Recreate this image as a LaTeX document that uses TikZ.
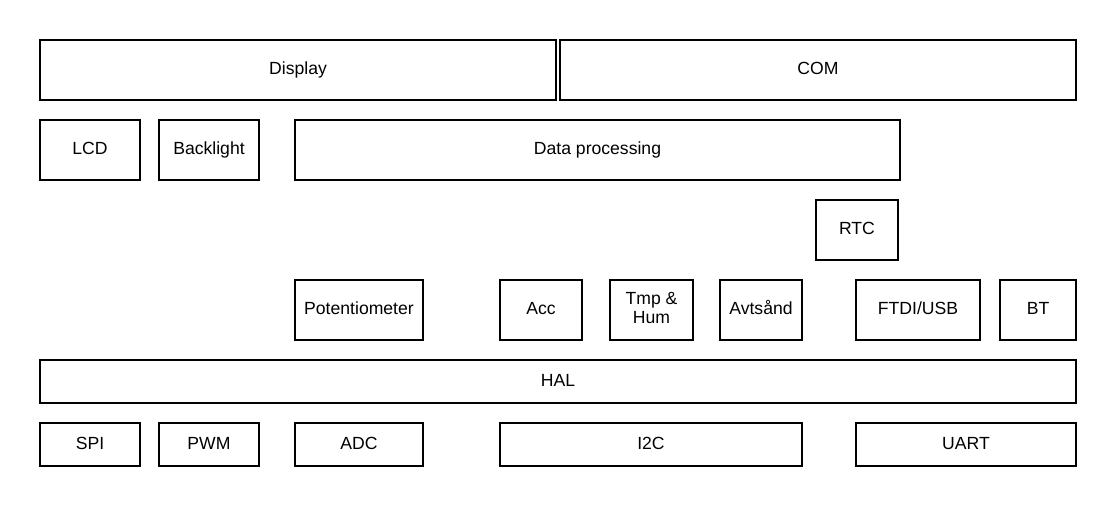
\documentclass[tikz,border=0pt]{standalone}
\usepackage{fontspec}
\setmainfont{Liberation Sans}

\begin{document}
\begin{tikzpicture}[x=0.75pt,y=-0.75pt,
		block/.style={rectangle,draw,line width=1.5pt,inner sep=0pt,align=center,
			minimum height=45pt,font=\fontsize{13.2}{14.25}\selectfont,
			text height=9.5pt,text depth=2.5pt},
		low block/.style={block,minimum height=32.25pt}]
		\useasboundingbox (0,0) rectangle (1116,506);
		% top row
		\node[block, minimum width=387pt] (display) at (298,70) {Display};
		\node[block, minimum width=387pt] (com) at (818,70) {COM};
		% display parts and processing
		\node[block, minimum width=75pt] (lcd) at (90,150) {LCD};
		\node[block, minimum width=75pt] (backlight) at (209,150) {Backlight};
		\node[block, minimum width=453.75pt] (proc) at (597.5,150) {Data processing};
		\node[block, minimum width=61.5pt] (rtc) at (857,230) {RTC};
		% sensors and links
		\node[block, minimum width=96pt] (pot) at (359,310) {Potentiometer};
		\node[block, minimum width=61.5pt] (acc) at (541,310) {Acc};
		\node[block, minimum width=62.25pt, text height=23.75pt, text depth=4.25pt] (tmp) at (651.5,310) {Tmp \&\\Hum};
		\node[block, minimum width=61.5pt] (dist) at (761,310) {Avtsånd};
		\node[block, minimum width=93pt] (ftdi) at (918,310) {FTDI/USB};
		\node[block, minimum width=57pt] (bt) at (1038,310) {BT};
		% hardware
		\node[low block, minimum width=777pt] (hal) at (558,381.5) {HAL};
		\node[low block, minimum width=75pt] (spi) at (90,444.5) {SPI};
		\node[low block, minimum width=75pt] (pwm) at (209,444.5) {PWM};
		\node[low block, minimum width=96pt] (adc) at (359,444.5) {ADC};
		\node[low block, minimum width=226.5pt] (i2c) at (651,444.5) {I2C};
		\node[low block, minimum width=165pt] (uart) at (966,444.5) {UART};
\end{tikzpicture}
\end{document}
